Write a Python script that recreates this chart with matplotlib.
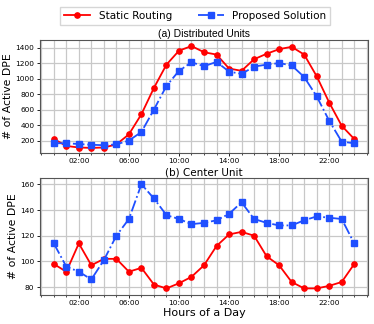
import matplotlib
matplotlib.use("Agg")
import matplotlib.pyplot as plt
from matplotlib.ticker import MultipleLocator, FuncFormatter

hours = list(range(25))

# (a) Distributed Units
du_static = [220, 130, 110, 105, 110, 150, 280, 540, 880, 1180, 1360, 1420, 1340,
             1310, 1130, 1100, 1250, 1320, 1380, 1410, 1310, 1030, 690, 390, 220]
du_proposed = [165, 165, 155, 145, 140, 150, 200, 310, 600, 905, 1100, 1210, 1160,
               1215, 1090, 1060, 1155, 1180, 1200, 1170, 1020, 770, 455, 185, 165]

# (b) Center Unit
cu_static = [98, 92, 114, 97, 102, 102, 92, 95, 82, 79, 83, 88, 97,
             112, 121, 123, 120, 104, 97, 84, 79, 79, 81, 84, 98]
cu_proposed = [114, 96, 92, 86, 101, 120, 133, 160, 149, 136, 133, 129, 130,
               132, 137, 146, 133, 130, 128, 128, 132, 135, 134, 133, 114]

titles = ["(a) Distributed Units", "(b) Center Unit"]
labels = ["Static Routing", "Proposed Solution"]

fig = plt.figure(figsize=(3.74, 3.24), dpi=100)
ax1 = fig.add_axes([0.107, 0.528, 0.877, 0.349])
ax2 = fig.add_axes([0.107, 0.090, 0.877, 0.361])

for ax, static, proposed, title in [(ax1, du_static, du_proposed, titles[0]),
                                     (ax2, cu_static, cu_proposed, titles[1])]:
    ax.plot(hours, static, "-o", color="#ff0000", lw=1.3, ms=3.8, label=labels[0])
    ax.plot(hours, proposed, "-.s", color="#1f4fff", lw=1.3, ms=3.8, label=labels[1])
    ax.set_ylabel("# of Active DPE", fontsize=7.8, labelpad=1.5)
    ax.xaxis.set_minor_locator(MultipleLocator(1))
    ax.set_xlim(-1.1, 25.1)
    ax.set_xticks([2, 6, 10, 14, 18, 22])
    ax.xaxis.set_major_formatter(FuncFormatter(lambda v, p: "%02d:00" % v))
    ax.grid(True, which="both", axis="x", color="#c8c8c8", lw=0.9)
    ax.grid(True, which="major", axis="y", color="#c8c8c8", lw=0.9)
    ax.tick_params(labelsize=5.3, length=2.5, width=0.6, pad=1.5)
    ax.tick_params(which="minor", length=1.5, width=0.5)
    for s in ax.spines.values():
        s.set_color("#555555")
        s.set_linewidth(0.8)

ax1.set_title(titles[0], fontsize=7.5, pad=2, family=["Liberation Sans", "DejaVu Sans"])
ax2.set_title(titles[1], fontsize=7.5, pad=2)

ax1.set_ylim(40, 1500)
ax1.set_yticks([200, 400, 600, 800, 1000, 1200, 1400])
ax2.set_ylim(74, 165)
ax2.set_yticks([80, 100, 120, 140, 160])
ax2.set_xlabel("Hours of a Day", fontsize=8, labelpad=1)

handles, lbls = ax1.get_legend_handles_labels()
fig.legend(handles, lbls, loc="upper center", bbox_to_anchor=(0.522, 0.995), ncol=2,
           fontsize=7.5, frameon=True, fancybox=False, edgecolor="#cccccc",
           columnspacing=2.5, handlelength=2.5, borderpad=0.4)

fig.savefig("out.png", dpi=100)
